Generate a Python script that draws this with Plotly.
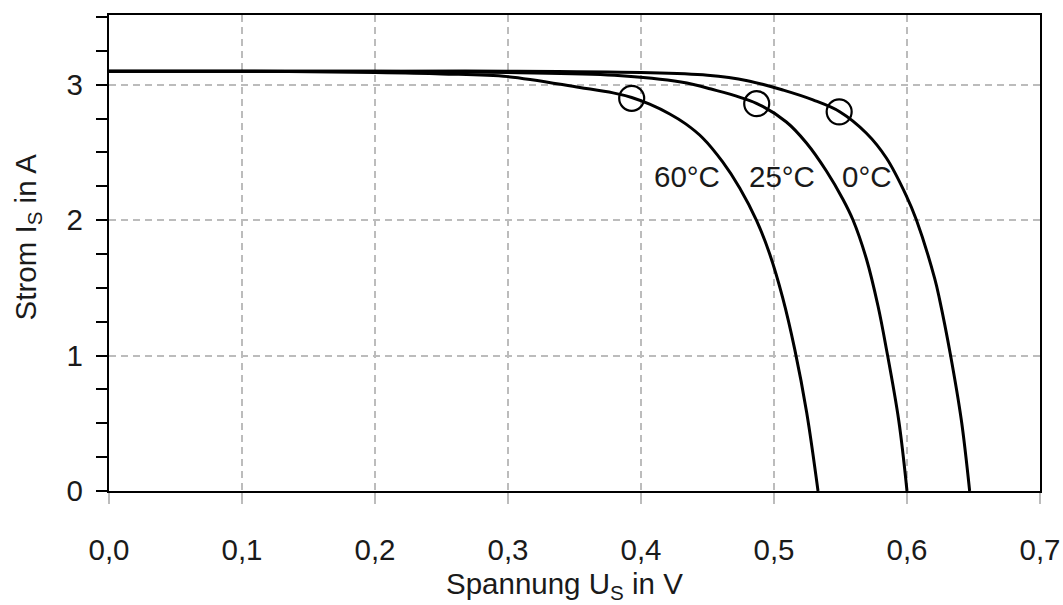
import plotly.graph_objects as go

# ---------------- data ----------------
u_60 = [0.000, 0.100, 0.200, 0.250, 0.300, 0.354, 0.379, 0.393, 0.4065, 0.4216, 0.4336,
        0.4464, 0.4614, 0.4742, 0.4870, 0.4967, 0.5065, 0.5156, 0.5246, 0.5331]
i_60 = [3.10, 3.10, 3.09, 3.08, 3.06, 2.98, 2.94, 2.906, 2.856, 2.784, 2.711,
        2.607, 2.430, 2.238, 1.995, 1.752, 1.428, 1.046, 0.578, 0.00]

u_25 = [0.000, 0.200, 0.300, 0.380, 0.430, 0.452, 0.4868, 0.5093, 0.5244, 0.5394,
        0.5519, 0.5594, 0.5695, 0.5782, 0.5845, 0.5938, 0.600]
i_25 = [3.10, 3.10, 3.09, 3.07, 3.02, 2.97, 2.863, 2.725, 2.570, 2.363,
        2.153, 2.001, 1.713, 1.366, 1.049, 0.520, 0.00]

u_0 = [0.000, 0.200, 0.300, 0.400, 0.450, 0.480, 0.507, 0.5293, 0.5494, 0.5695,
       0.5845, 0.5995, 0.6071, 0.6208, 0.6246, 0.6326, 0.6409, 0.6471]
i_0 = [3.10, 3.10, 3.10, 3.09, 3.07, 3.03, 2.96, 2.888, 2.801, 2.642,
       2.459, 2.180, 2.001, 1.570, 1.410, 1.010, 0.520, 0.00]

mpp_u = [0.393, 0.487, 0.549]
mpp_i = [2.90, 2.86, 2.80]

curve_labels = ["60°C", "25°C", "0°C"]

x_tickvals = [0.0, 0.1, 0.2, 0.3, 0.4, 0.5, 0.6, 0.7]
x_ticktext = ["0,0", "0,1", "0,2", "0,3", "0,4", "0,5", "0,6", "0,7"]
y_tickvals = [0, 1, 2, 3]
y_ticktext = ["0", "1", "2", "3"]

# ---------------- figure ----------------
FONT = "Liberation Sans, Arial, sans-serif"
FS = 29.5
TXT = "#1a1a1a"
fig = go.Figure()

for u, i in [(u_60, i_60), (u_25, i_25), (u_0, i_0)]:
    fig.add_trace(go.Scatter(
        x=u, y=i, mode="lines",
        line=dict(color="black", width=3, shape="spline", smoothing=1.0),
        showlegend=False, hoverinfo="skip"))

fig.add_trace(go.Scatter(
    x=mpp_u, y=mpp_i, mode="markers",
    marker=dict(symbol="circle-open", size=25, color="black",
                line=dict(color="black", width=2.2)),
    showlegend=False, hoverinfo="skip"))

label_pos = [(0.4343, 2.32), (0.506, 2.32), (0.570, 2.32)]
for txt, (lx, ly) in zip(curve_labels, label_pos):
    fig.add_annotation(x=lx, y=ly, text=txt, showarrow=False,
                       font=dict(family=FONT, size=FS, color=TXT),
                       xanchor="center", yanchor="middle")

# axis titles as annotations (with subscripts)
fig.add_annotation(xref="paper", yref="paper", x=0.4897, y=-0.199,
                   text="Spannung U<sub>S</sub> in V", showarrow=False,
                   font=dict(family=FONT, size=FS, color=TXT),
                   xanchor="center", yanchor="middle")
fig.add_annotation(xref="paper", yref="paper", x=-0.0874, y=0.534,
                   text="Strom I<sub>S</sub> in A", showarrow=False, textangle=-90,
                   font=dict(family=FONT, size=FS, color=TXT),
                   xanchor="center", yanchor="middle")

grid_color = "#bcbcbc"
fig.update_xaxes(
    range=[0, 0.7], tickvals=x_tickvals, ticktext=x_ticktext, automargin=False,
    showgrid=True, gridcolor=grid_color, griddash="7px,5px", gridwidth=1.5,
    showline=True, linecolor="black", linewidth=2.2, mirror=True,
    ticks="outside", ticklen=11, tickcolor=grid_color, tickwidth=1.5,
    tickfont=dict(family=FONT, size=FS, color=TXT),
    ticklabelstandoff=20, zeroline=False)
fig.update_yaxes(
    range=[0, 3.515], tickvals=y_tickvals, ticktext=y_ticktext, automargin=False,
    showgrid=True, gridcolor=grid_color, griddash="7px,5px", gridwidth=1.5,
    showline=True, linecolor="black", linewidth=2.2, mirror=True,
    ticks="outside", ticklen=11, tickcolor="black", tickwidth=1.5,
    minor=dict(dtick=0.25, tick0=0, ticks="outside", ticklen=11,
               tickcolor="black", tickwidth=1.5, showgrid=False),
    tickfont=dict(family=FONT, size=FS, color=TXT),
    ticklabelstandoff=7, zeroline=False)

fig.update_layout(
    width=1063, height=605,
    margin=dict(l=109, r=23, t=15, b=114),
    paper_bgcolor="white", plot_bgcolor="white",
    font=dict(family=FONT, size=FS, color=TXT),
)

fig.write_html("out.html")
